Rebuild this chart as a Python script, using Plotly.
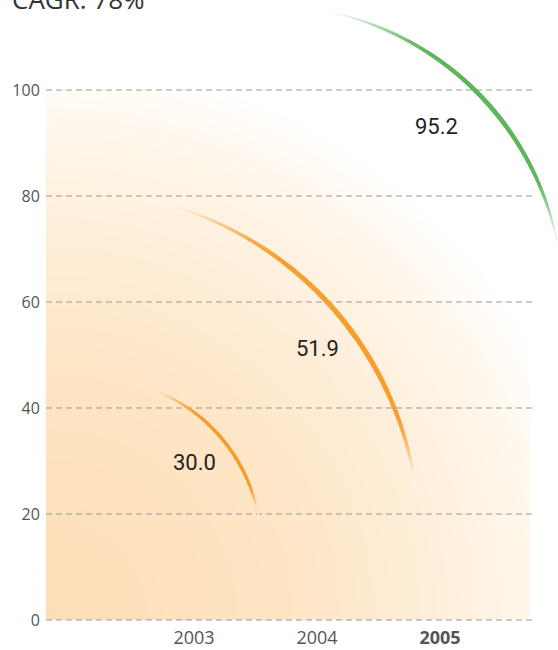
import numpy as np
import plotly.graph_objects as go

# ---------------- data ----------------
years = [2003, 2004, 2005]
values = [30.0, 51.9, 95.2]
value_labels = ["30.0", "51.9", "95.2"]
year_labels = ["2003", "2004", "<b>2005</b>"]
y_ticks = [0, 20, 40, 60, 80, 100]
title_text = "CAGR: 78%"

# ---------------- layout geometry (pixels) ----------------
W, H = 558, 650
X_REF_PX = 194          # pixel of first year
PX_PER_YEAR = 123
Y0_PX = 620             # pixel of value 0
PX_PER_UNIT = 5.3
PLOT_LEFT, PLOT_RIGHT = 46, 533
FILL_RIGHT, FILL_TOP = 530, 90


def px_to_x(px):
    return years[0] + (np.asarray(px, dtype=float) - X_REF_PX) / PX_PER_YEAR


def py_to_y(py):
    return (Y0_PX - np.asarray(py, dtype=float)) / PX_PER_UNIT


def x_to_px(x):
    return X_REF_PX + (x - years[0]) * PX_PER_YEAR


def y_to_py(y):
    return Y0_PX - y * PX_PER_UNIT


# arc styles (centre offset from the data point in px, radius px, angles deg)
arc_styles = [
    dict(dx=-100, dy=85, r=167, a0=76, a1=8, rgb=(247, 160, 48), wmax=3.2, tail=0.0),
    dict(dx=-242, dy=191, r=344, a0=80, a1=6, rgb=(247, 160, 48), wmax=5.0, tail=0.0),
    dict(dx=-172, dy=185, r=295, a0=82, a1=11, rgb=(96, 182, 92), wmax=4.4, tail=0.2),
]
label_shifts = [(0, -1), (0, -4), (-4, -11)]

fig = go.Figure()

# ---------------- background gradient ----------------
nx, ny = 200, 220
xe_px = np.linspace(PLOT_LEFT, FILL_RIGHT, nx + 1)
ye_px = np.linspace(Y0_PX, FILL_TOP, ny + 1)
xc = (xe_px[:-1] + xe_px[1:]) / 2
yc = (ye_px[:-1] + ye_px[1:]) / 2
XX, YY = np.meshgrid(xc, yc)
D = np.hypot(XX - PLOT_LEFT, Y0_PX - YY) / 535.0
fig.add_trace(go.Heatmap(
    x=px_to_x(xe_px), y=py_to_y(ye_px), z=D,
    zmin=0, zmax=1.05, showscale=False, hoverinfo="skip",
    colorscale=[
        [0.0, "rgb(253,221,181)"],
        [0.42, "rgb(254,229,196)"],
        [0.66, "rgb(254,237,214)"],
        [0.82, "rgb(255,244,230)"],
        [0.92, "rgb(255,250,243)"],
        [1.0, "rgb(255,255,255)"],
    ],
    xaxis="x", yaxis="y",
))

# ---------------- dashed gridlines ----------------
gx, gy = [], []
for v in y_ticks:
    gx += [float(px_to_x(PLOT_LEFT)), float(px_to_x(PLOT_RIGHT)), None]
    gy += [v, v, None]
fig.add_trace(go.Scatter(
    x=gx, y=gy, mode="lines", hoverinfo="skip", showlegend=False,
    line=dict(color="#999999", width=1, dash="6px,4px"),
    xaxis="x", yaxis="y",
))


# ---------------- arcs ----------------
def smoothstep(a, b, t):
    s = np.clip((t - a) / (b - a), 0, 1)
    return s * s * (3 - 2 * s)


n = 700
t = np.linspace(0, 1, n)
for yr, val, st in zip(years, values, arc_styles):
    px, py = x_to_px(yr), y_to_py(val)
    cx, cy = px + st["dx"], py + st["dy"]
    th = np.radians(st["a0"] + (st["a1"] - st["a0"]) * t)
    apx = cx + st["r"] * np.cos(th)
    apy = cy - st["r"] * np.sin(th)
    shape = (t ** 1.1) * ((1 - t) ** 0.8)
    shape = shape / shape.max()
    width = 0.4 + (st["wmax"] - 0.4) * shape
    m = smoothstep(0.0, 0.38, t) * (st["tail"] + (1 - st["tail"]) * (1 - smoothstep(0.8, 1.0, t)))
    cols = []
    for mi in m:
        r = 255 + (st["rgb"][0] - 255) * mi
        g = 255 + (st["rgb"][1] - 255) * mi
        b = 255 + (st["rgb"][2] - 255) * mi
        cols.append(f"rgb({r:.0f},{g:.0f},{b:.0f})")
    fig.add_trace(go.Scatter(
        x=px_to_x(apx), y=py_to_y(apy), mode="markers",
        marker=dict(size=width, color=cols, line=dict(width=0)),
        hoverinfo="skip", showlegend=False, xaxis="x2", yaxis="y2",
    ))

# ---------------- value labels ----------------
for yr, val, lab, (sx, sy) in zip(years, values, value_labels, label_shifts):
    fig.add_annotation(
        x=yr, y=val, xref="x", yref="y", text=lab, showarrow=False,
        xshift=sx, yshift=sy,
        font=dict(family="Roboto, sans-serif", size=22, color="#222222"),
    )

# title (cut off at top)
fig.add_annotation(
    x=10 / W, y=1, xref="paper", yref="paper", xanchor="left", yanchor="top",
    yshift=21, text=title_text, showarrow=False,
    font=dict(family="Open Sans, sans-serif", size=26, color="#333333"),
)

y_lo, y_hi = -1, 101
fig.update_layout(
    width=W, height=H,
    margin=dict(l=0, r=0, t=0, b=0),
    paper_bgcolor="white", plot_bgcolor="rgba(0,0,0,0)",
    showlegend=False,
    xaxis=dict(
        domain=[PLOT_LEFT / W, PLOT_RIGHT / W],
        range=[float(px_to_x(PLOT_LEFT)), float(px_to_x(PLOT_RIGHT))],
        tickvals=years, ticktext=year_labels,
        tickfont=dict(family="Open Sans, sans-serif", size=18, color="#555555"),
        showgrid=False, zeroline=False, showline=False,
        ticks="",
        fixedrange=True, automargin=False,
    ),
    yaxis=dict(
        domain=[(H - y_to_py(y_lo)) / H, (H - y_to_py(y_hi)) / H],
        range=[y_lo, y_hi],
        tickvals=y_ticks,
        tickfont=dict(family="Open Sans, sans-serif", size=16, color="#555555"),
        showgrid=False, zeroline=False, showline=False,
        ticks="outside", ticklen=2, tickcolor="rgba(0,0,0,0)",
        fixedrange=True, automargin=False,
    ),
    xaxis2=dict(
        domain=[0, 1], anchor="y2",
        range=[float(px_to_x(0)), float(px_to_x(W))],
        visible=False, fixedrange=True,
    ),
    yaxis2=dict(
        domain=[0, 1], anchor="x2",
        range=[float(py_to_y(H)), float(py_to_y(0))],
        visible=False, fixedrange=True,
    ),
)

fig.write_html(
    "out.html",
    config={"displayModeBar": False},
    post_script="document.body.style.margin='0';document.body.style.overflow='hidden';",
)
